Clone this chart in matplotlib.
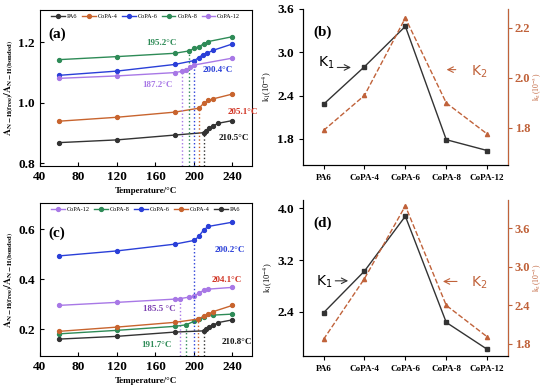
import matplotlib
matplotlib.use('Agg')
import matplotlib.pyplot as plt

plt.rcParams['font.family'] = ['Liberation Serif', 'DejaVu Serif']
plt.rcParams['mathtext.fontset'] = 'stix'

# ---- panel (a) data ----
T_pa6_a = [60, 120, 180, 210.5, 213, 216, 220, 225, 240]
pa6_a = [0.868, 0.877, 0.893, 0.901, 0.908, 0.915, 0.923, 0.932, 0.941]
T_copa4_a = [60, 120, 180, 205.1, 210, 215, 220, 240]
copa4_a = [0.939, 0.952, 0.969, 0.982, 0.998, 1.008, 1.013, 1.029]
T_copa6_a = [60, 120, 180, 200.4, 205, 209, 214, 220, 240]
copa6_a = [1.091, 1.105, 1.127, 1.140, 1.150, 1.159, 1.165, 1.174, 1.195]
T_copa8_a = [60, 120, 180, 195.2, 200, 205, 210, 215, 240]
copa8_a = [1.143, 1.153, 1.164, 1.172, 1.180, 1.186, 1.195, 1.203, 1.219]
T_copa12_a = [60, 120, 180, 187.2, 192, 196, 200, 240]
copa12_a = [1.081, 1.089, 1.100, 1.104, 1.110, 1.117, 1.125, 1.148]

# ---- panel (c) data ----
T_pa6_c = [60, 120, 180, 210.8, 213, 216, 220, 225, 240]
pa6_c = [0.160, 0.171, 0.188, 0.193, 0.200, 0.207, 0.215, 0.226, 0.237]
T_copa4_c = [60, 120, 180, 204.1, 210, 215, 220, 240]
copa4_c = [0.191, 0.208, 0.227, 0.240, 0.251, 0.260, 0.270, 0.295]
T_copa6_c = [60, 120, 180, 200.2, 205, 210, 215, 240]
copa6_c = [0.493, 0.513, 0.540, 0.555, 0.571, 0.597, 0.611, 0.628]
T_copa8_c = [60, 120, 180, 191.7, 200, 205, 210, 220, 240]
copa8_c = [0.181, 0.195, 0.211, 0.217, 0.231, 0.240, 0.250, 0.256, 0.260]
T_copa12_c = [60, 120, 180, 185.5, 195, 200, 205, 210, 215, 240]
copa12_c = [0.295, 0.307, 0.320, 0.322, 0.328, 0.333, 0.344, 0.355, 0.360, 0.367]

# ---- panels (b), (d) data ----
samples = ['PA6', 'CoPA-4', 'CoPA-6', 'CoPA-8', 'CoPA-12']
k1_b = [2.28, 2.80, 3.36, 1.79, 1.64]
k2_b = [1.79, 1.93, 2.24, 1.90, 1.776]
k1_d = [2.385, 3.03, 3.88, 2.236, 1.82]
k2_d = [1.87, 2.815, 3.95, 2.40, 1.91]

c_pa6 = '#333333'
c_4 = '#c8642e'
c_6 = '#2a3fd8'
c_8 = '#2e8b57'
c_12 = '#a878e6'
c_k2 = '#c0623a'

fig = plt.figure(figsize=(5.5, 3.9), dpi=100)
ax_a = fig.add_axes([0.0727, 0.574, 0.385, 0.400])
ax_c = fig.add_axes([0.0727, 0.087, 0.385, 0.392])
ax_b = fig.add_axes([0.551, 0.577, 0.372, 0.400])
ax_d = fig.add_axes([0.551, 0.087, 0.372, 0.400])

mk = dict(marker='o', markersize=2.8, linewidth=1.0)


def temp_panel(ax, series, order, labels, ylim, yticks, letter, letter_y):
    for name in order:
        T, v, col, onset = series[name]
        ax.plot(T, v, color=col, label=name, **mk)
        i = T.index(onset)
        ax.vlines(onset, ylim[0], v[i], colors=col, linestyles=':', linewidth=1.0)
    for txt, x, y, col in labels:
        ax.text(x, y, txt, color=col, fontsize=6.5, fontweight='bold', ha='center', va='center')
    ax.set_xlim(40, 260)
    ax.set_ylim(*ylim)
    ax.set_xticks([40, 80, 120, 160, 200, 240])
    ax.set_yticks(yticks)
    ax.tick_params(direction='in', labelsize=9.5, length=3)
    for t in ax.get_xticklabels() + ax.get_yticklabels():
        t.set_fontweight('bold')
    ax.set_xlabel('Temperature/\u00b0C', fontsize=6.5, fontweight='bold', labelpad=3)
    ax.set_ylabel(r'$\mathbf{A_{N-H(free)}/A_{N-H(bonded)}}$', fontsize=7, labelpad=2)
    ax.text(0.04, letter_y, letter, transform=ax.transAxes, fontsize=11, fontweight='bold')
    ax.legend(loc='upper center', ncol=5, fontsize=4.5, frameon=False, handlelength=2.2,
              columnspacing=0.7, handletextpad=0.3, borderaxespad=0.2)


series_a = {
    'PA6': (T_pa6_a, pa6_a, c_pa6, 210.5),
    'CoPA-4': (T_copa4_a, copa4_a, c_4, 205.1),
    'CoPA-6': (T_copa6_a, copa6_a, c_6, 200.4),
    'CoPA-8': (T_copa8_a, copa8_a, c_8, 195.2),
    'CoPA-12': (T_copa12_a, copa12_a, c_12, 187.2),
}
labels_a = [('195.2\u00b0C', 166, 1.197, c_8), ('200.4\u00b0C', 225, 1.110, c_6),
            ('187.2\u00b0C', 162.5, 1.058, c_12), ('205.1\u00b0C', 250.5, 0.969, '#d03020'),
            ('210.5\u00b0C', 241, 0.882, '#111111')]
temp_panel(ax_a, series_a, ['PA6', 'CoPA-4', 'CoPA-6', 'CoPA-8', 'CoPA-12'], labels_a,
           (0.79, 1.307), [0.8, 1.0, 1.2], '(a)', 0.82)

series_c = {
    'PA6': (T_pa6_c, pa6_c, c_pa6, 210.8),
    'CoPA-4': (T_copa4_c, copa4_c, c_4, 204.1),
    'CoPA-6': (T_copa6_c, copa6_c, c_6, 200.2),
    'CoPA-8': (T_copa8_c, copa8_c, c_8, 191.7),
    'CoPA-12': (T_copa12_c, copa12_c, c_12, 185.5),
}
labels_c = [('200.2\u00b0C', 237.5, 0.517, c_6), ('204.1\u00b0C', 234, 0.395, '#d03020'),
            ('185.5 \u00b0C', 164.5, 0.280, '#7a3fb0'), ('191.7\u00b0C', 161, 0.137, c_8),
            ('210.8\u00b0C', 244.5, 0.147, '#111111')]
temp_panel(ax_c, series_c, ['CoPA-12', 'CoPA-8', 'CoPA-6', 'CoPA-4', 'PA6'], labels_c,
           (0.092, 0.704), [0.2, 0.4, 0.6], '(c)', 0.78)


def k_panel(ax, k1, k2, ylim1, yt1, ylim2, yt2, letter, k1pos, k2pos):
    x = list(range(len(samples)))
    ax.plot(x, k1, color='#333333', marker='s', markersize=3, linewidth=1.0)
    ax.set_xlim(-0.5, 4.5)
    ax.set_ylim(*ylim1)
    ax.set_yticks(yt1)
    ax.set_xticks(x)
    ax.set_xticklabels(samples, fontsize=6.5, fontweight='bold')
    ax.tick_params(axis='y', labelsize=9.5, length=3)
    ax.tick_params(axis='x', length=3)
    for t in ax.get_yticklabels():
        t.set_fontweight('bold')
    ax.spines['top'].set_visible(False)
    ax.set_ylabel(r'k$_1$(10$^{-4}$)', fontsize=6, labelpad=2)
    ax2 = ax.twinx()
    ax2.plot(x, k2, color=c_k2, marker='^', markersize=3, linewidth=1.0, linestyle='--')
    ax2.set_ylim(*ylim2)
    ax2.set_yticks(yt2)
    ax2.tick_params(axis='y', labelsize=9, colors=c_k2, length=3, pad=2)
    for t in ax2.get_yticklabels():
        t.set_fontweight('bold')
    ax2.spines['top'].set_visible(False)
    ax2.spines['right'].set_color(c_k2)
    ax2.set_ylabel(r'k$_2$(10$^{-3}$)', fontsize=5.5, color=c_k2)
    ax2.yaxis.set_label_coords(1.115, 0.5)
    ax.text(0.05, 0.83, letter, transform=ax.transAxes, fontsize=11, fontweight='bold')
    tx, ty, ax0, ax1, ay = k1pos
    ax.text(tx, ty, 'K$_1$', fontsize=10, family='DejaVu Sans', ha='center', va='center',
            math_fontfamily='dejavusans')
    ax.annotate('', xy=(ax1, ay), xytext=(ax0, ay),
                arrowprops=dict(arrowstyle='->', color='#333333', lw=0.8))
    tx, ty, ax0, ax1, ay = k2pos
    ax.text(tx, ty, 'K$_2$', fontsize=10, family='DejaVu Sans', color=c_k2, ha='center',
            va='center', math_fontfamily='dejavusans')
    ax.annotate('', xy=(ax1, ay), xytext=(ax0, ay),
                arrowprops=dict(arrowstyle='->', color=c_k2, lw=0.8))


k_panel(ax_b, k1_b, k2_b, (1.44, 3.6), [1.8, 2.4, 3.0, 3.6], (1.652, 2.276), [1.8, 2.0, 2.2],
        '(b)', (0.07, 2.85, 0.27, 0.74, 2.79), (3.81, 2.73, 3.3, 2.94, 2.76))
k_panel(ax_d, k1_d, k2_d, (1.715, 4.13), [2.4, 3.2, 4.0], (1.61, 4.04), [1.8, 2.4, 3.0, 3.6],
        '(d)', (0.03, 2.87, 0.22, 0.67, 2.88), (3.81, 2.85, 3.33, 2.85, 2.87))

fig.savefig('out.png', dpi=100)
